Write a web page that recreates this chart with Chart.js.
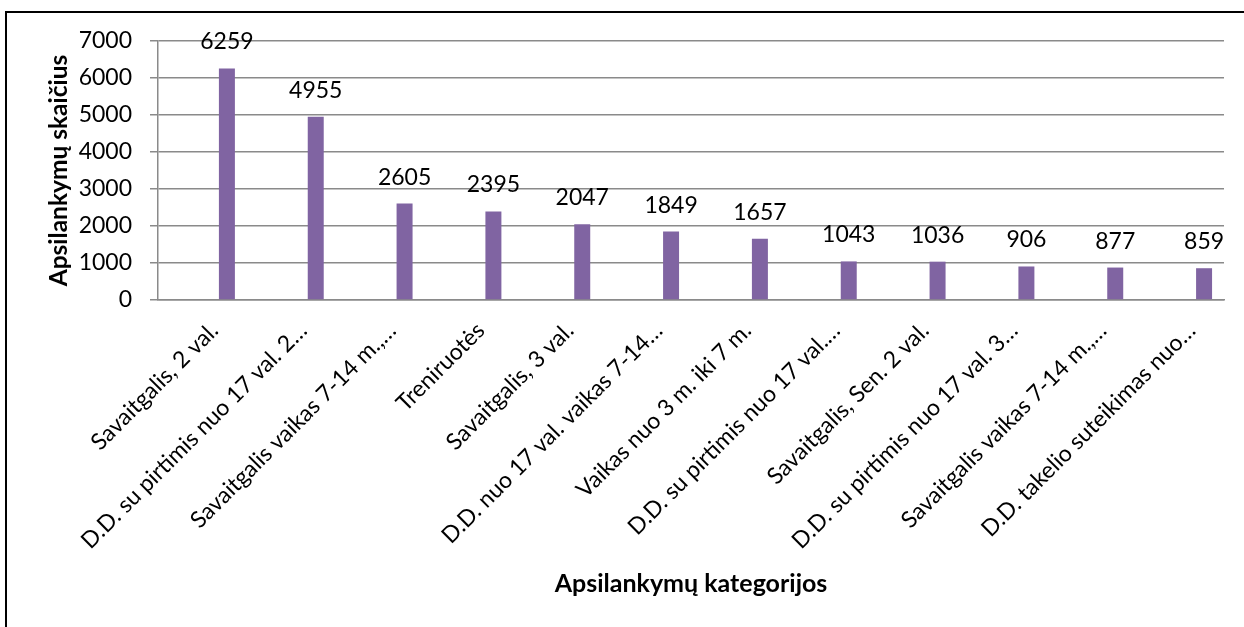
<!DOCTYPE html>
<html>
<head>
<meta charset="utf-8">
<script src="https://cdn.jsdelivr.net/npm/chart.js@4.4.0/dist/chart.umd.min.js"></script>
<style>
  html, body { margin: 0; padding: 0; background: #fff; overflow: hidden; }
  #wrap { position: relative; width: 1244px; height: 627px; }
  #frame { position: absolute; left: 5px; top: 11px; width: 1400px; height: 800px; border: 2px solid #000; box-sizing: border-box; }
  #visits-chart { position: absolute; left: 0; top: 0; }
</style>
</head>
<body>
<div id="wrap">
  <div id="frame"></div>
  <canvas id="visits-chart" width="1244" height="627"></canvas>
</div>
<script>
// Kategorijos (kaip matomos ašyje, su sutrumpinimais)
const categories = [
  'Savaitgalis, 2 val.',
  'D.D. su pirtimis nuo 17 val. 2…',
  'Savaitgalis vaikas 7-14 m.,…',
  'Treniruotės',
  'Savaitgalis, 3 val.',
  'D.D. nuo 17 val. vaikas 7-14…',
  'Vaikas nuo 3 m. iki 7 m.',
  'D.D. su pirtimis nuo 17 val.…',
  'Savaitgalis, Sen. 2 val.',
  'D.D. su pirtimis nuo 17 val. 3…',
  'Savaitgalis vaikas 7-14 m.,…',
  'D.D. takelio suteikimas nuo…'
];

// Apsilankymų skaičiai
const visits = [6259, 4955, 2605, 2395, 2047, 1849, 1657, 1043, 1036, 906, 877, 859];

// Y ašies ribos
const yMin = 0;
const yMax = 7000;
const yStep = 1000;

const FONT = 'Lato, "Liberation Sans", sans-serif';
const GRID = '#8a8a8a';
const BAR = '#8064A2';

// Tuščios eilutės, kad stulpelis būtų pasislinkęs į dešinę kaip originale
const emptySeries = categories.map(() => null);

// Skaičiai virš stulpelių
const valueLabels = {
  id: 'valueLabels',
  afterDatasetsDraw(chart) {
    const ctx = chart.ctx;
    const meta = chart.getDatasetMeta(2);
    ctx.save();
    ctx.font = '23px ' + FONT;
    ctx.fillStyle = '#000';
    ctx.textAlign = 'center';
    ctx.textBaseline = 'alphabetic';
    meta.data.forEach((bar, i) => {
      ctx.fillText(String(visits[i]), bar.x, bar.y - 19);
    });
    ctx.restore();
  }
};

new Chart(document.getElementById('visits-chart'), {
  type: 'bar',
  data: {
    labels: categories,
    datasets: [
      { label: '', data: emptySeries },
      { label: '', data: emptySeries },
      {
        label: 'Apsilankymai',
        data: visits,
        backgroundColor: BAR,
        borderWidth: 0
      }
    ]
  },
  options: {
    responsive: false,
    animation: false,
    categoryPercentage: 0.827,
    barPercentage: 0.653,
    layout: { padding: { left: 0, top: 41, right: 20, bottom: 0 } },
    plugins: {
      legend: { display: false },
      tooltip: { enabled: false }
    },
    scales: {
      x: {
        grid: { display: false },
        border: { display: true, color: GRID, width: 1.5 },
        ticks: {
          autoSkip: false,
          minRotation: 45,
          maxRotation: 45,
          padding: 9,
          labelOffset: 12,
          color: '#000',
          font: { family: FONT, size: 23 }
        },
        title: {
          display: true,
          text: 'Apsilankymų kategorijos',
          color: '#000',
          font: { family: FONT, size: 25, weight: 'bold' },
          padding: { top: 0, bottom: 28 }
        },
        afterFit(scale) { scale.height = 327; }
      },
      y: {
        min: yMin,
        max: yMax,
        ticks: {
          stepSize: yStep,
          padding: 18,
          color: '#000',
          font: { family: FONT, size: 23 },
          callback: (v) => String(v)
        },
        grid: { color: GRID, lineWidth: 1.5, tickLength: 8, drawTicks: true },
        border: { display: true, color: GRID, width: 1.5 },
        title: {
          display: true,
          text: 'Apsilankymų skaičius',
          color: '#000',
          font: { family: FONT, size: 24.5, weight: 'bold' },
          padding: { top: 44, bottom: 0 }
        },
        afterFit(scale) { scale.width = 158; }
      }
    }
  },
  plugins: [valueLabels]
});
</script>
</body>
</html>
